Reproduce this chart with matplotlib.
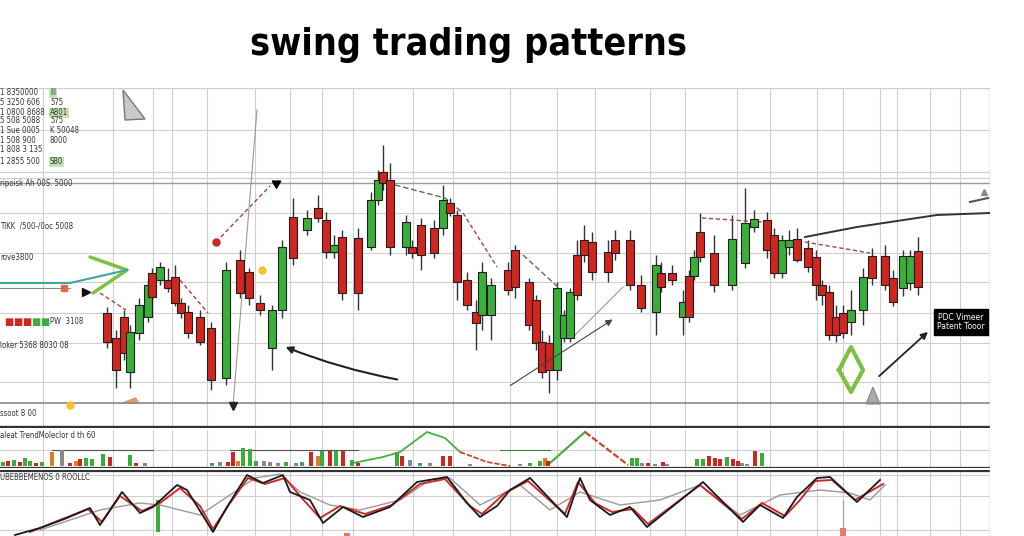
import matplotlib.pyplot as plt
from matplotlib.patches import Polygon

plt.rcParams['font.family'] = ['DejaVu Sans']

# candles: bar time, open, high, low, close
candle_t = [107, 116, 124, 130, 139, 148, 152, 160, 168, 175, 181, 188, 200, 211, 226,
            240, 249, 260, 272, 282, 293, 307, 318, 326, 334, 342, 358, 371, 378, 383,
            390, 406, 412, 421, 434, 443, 450, 457, 467, 476, 482, 491, 508, 515, 529,
            536, 542, 549, 557, 564, 570, 577, 584, 592, 608, 615, 630, 641, 656, 661,
            672, 683, 689, 694, 700, 714, 732, 745, 754, 767, 774, 782, 789, 797, 808,
            816, 822, 829, 836, 843, 851, 863, 872, 885, 893, 903, 910, 918]
candle_open = [115, 90, 111, 56, 95, 111, 155, 148, 148, 151, 125, 116, 111, 100, 50,
               168, 156, 125, 80, 118, 211, 198, 220, 208, 176, 191, 190, 181, 228, 256,
               248, 181, 181, 203, 200, 200, 225, 213, 148, 116, 113, 113, 158, 178, 146,
               128, 86, 85, 58, 90, 90, 173, 188, 186, 176, 188, 188, 143, 116, 155,
               155, 111, 152, 152, 196, 175, 143, 165, 201, 208, 193, 155, 181, 189, 180,
               171, 143, 136, 111, 115, 106, 118, 172, 172, 150, 140, 145, 177]
candle_high = [121, 98, 118, 103, 130, 148, 160, 166, 160, 163, 130, 123, 118, 106, 166,
               178, 160, 133, 123, 188, 230, 218, 233, 216, 193, 198, 200, 236, 258, 283,
               265, 213, 188, 210, 208, 243, 230, 218, 156, 128, 166, 150, 166, 183, 150,
               133, 98, 93, 146, 118, 140, 188, 203, 196, 188, 198, 198, 153, 173, 166,
               163, 138, 158, 178, 215, 193, 213, 240, 218, 216, 200, 193, 198, 200, 188,
               178, 148, 143, 123, 123, 138, 160, 180, 183, 158, 178, 178, 191]
candle_low = [80, 40, 68, 40, 88, 106, 128, 143, 136, 122, 110, 90, 83, 38, 43,
              130, 123, 113, 58, 110, 163, 193, 206, 170, 170, 128, 118, 178, 223, 238,
              173, 173, 170, 158, 170, 193, 212, 128, 118, 78, 98, 88, 133, 130, 98,
              78, 50, 35, 48, 86, 86, 128, 166, 148, 146, 168, 138, 116, 93, 136,
              143, 93, 106, 148, 166, 136, 138, 160, 196, 170, 150, 150, 173, 166, 156,
              128, 123, 88, 86, 90, 93, 103, 143, 138, 122, 132, 138, 133]
candle_close = [86, 58, 75, 96, 123, 143, 131, 161, 140, 125, 115, 95, 86, 48, 158,
                135, 130, 118, 118, 181, 170, 210, 210, 176, 183, 135, 135, 228, 248, 245,
                181, 206, 175, 173, 175, 228, 215, 146, 123, 105, 156, 143, 138, 141, 103,
                85, 56, 58, 140, 113, 136, 133, 173, 156, 156, 175, 143, 120, 163, 141,
                148, 126, 111, 171, 171, 143, 189, 205, 209, 178, 155, 188, 188, 168, 161,
                143, 133, 93, 93, 95, 118, 151, 150, 143, 126, 172, 172, 141]

# indicator bars
vol_t = [3, 8, 14, 20, 25, 30, 36, 42, 52, 62, 70, 76, 80, 86, 92, 103, 110, 130, 136, 145,
         212, 220, 228, 233, 238, 243, 250, 256, 264, 270, 278, 286, 296, 302, 311, 318,
         322, 330, 336, 343, 352, 358, 397, 402, 410, 420, 430, 443, 450, 470, 520, 530,
         540, 545, 548, 632, 637, 642, 648, 655, 663, 667, 697, 703, 709, 715, 720, 727,
         733, 738, 742, 747, 755, 762]
vol_h = [4, 5, 6, 4, 8, 5, 3, 4, 14, 16, 3, 5, 7, 8, 7, 12, 9, 11, 3, 3,
         3, 4, 4, 14, 5, 18, 17, 5, 5, 4, 3, 4, 3, 4, 14, 10,
         15, 15, 15, 15, 6, 3, 14, 10, 6, 3, 3, 10, 10, 2, 2, 3,
         5, 8, 5, 8, 8, 3, 3, 2, 4, 2, 7, 7, 10, 8, 7, 9,
         7, 5, 3, 2, 15, 13]
vol_kind = ['g', 'r', 'g', 'r', 'g', 'g', 'r', 'g', 'o', 'k', 'r', 'o', 'r', 'g', 'g', 'g', 'r', 'g', 'r', 'k',
            'g', 'k', 'r', 'r', 'o', 'g', 'g', 'g', 'k', 'k', 'k', 'g', 'k', 'g', 'r', 'o',
            'g', 'r', 'g', 'r', 'g', 'r', 'g', 'r', 'k', 'g', 'k', 'r', 'r', 'k', 'k', 'g',
            'g', 'o', 'r', 'g', 'g', 'k', 'r', 'k', 'r', 'k', 'g', 'g', 'r', 'r', 'r', 'g',
            'r', 'r', 'k', 'k', 'r', 'g']

trend_up1_t = [353, 383, 400, 427, 445, 460]
trend_up1_v = [3, 9, 14, 34, 28, 14]
trend_dn1_t = [460, 487, 510]
trend_dn1_v = [14, 4, 0]
trend_up2_t = [550, 585]
trend_up2_v = [3, 34]
trend_dn2_t = [585, 628]
trend_dn2_v = [34, 1]

# oscillator
osc_t = [15, 40, 67, 90, 100, 122, 140, 153, 177, 187, 213, 227, 247, 263, 283, 290, 310,
         323, 343, 363, 390, 417, 447, 467, 480, 497, 510, 530, 567, 580, 590, 610, 630,
         647, 703, 743, 760, 783, 797, 817, 830, 857, 880]
osc_v = [1, 8, 18, 28, 11, 44, 23, 29, 51, 46, 4, 29, 61, 53, 61, 44, 36,
         13, 29, 19, 29, 54, 59, 33, 19, 30, 46, 58, 19, 58, 36, 21, 29,
         9, 54, 14, 31, 18, 39, 58, 59, 34, 56]
sig_t = [30, 60, 88, 102, 120, 142, 160, 180, 200, 213, 230, 248, 265, 285, 300, 320, 340,
         365, 392, 420, 445, 470, 482, 505, 528, 565, 578, 595, 612, 633, 648, 700, 742,
         762, 785, 800, 815, 832, 855, 883]
sig_v = [4, 16, 27, 14, 40, 25, 33, 48, 30, 7, 33, 58, 52, 58, 40, 18, 30,
         22, 31, 52, 57, 30, 22, 43, 55, 22, 54, 33, 24, 27, 12, 51, 17,
         33, 20, 36, 55, 56, 36, 52]
avg_t = [40, 100, 140, 160, 200, 230, 255, 280, 300, 330, 360, 400, 430, 450, 480, 520,
         550, 580, 620, 660, 700, 740, 780, 820, 850, 870, 885]
avg_v = [6, 26, 33, 31, 21, 41, 58, 62, 44, 31, 26, 36, 56, 58, 31, 51,
         26, 44, 31, 36, 51, 21, 41, 46, 43, 36, 51]

grid_x = [43, 113, 153, 172, 207, 255, 290, 322, 353, 413, 453, 510, 557, 595, 650,
          685, 737, 770, 817, 843, 880, 897, 930, 960, 990]
grid_y = [46, 85, 115, 146, 175, 215, 250, 256, 298]

left_notes = [
    (93, '1 8350000'), (103, '5 3250 606'), (113, '1 0800 8688'), (121, '5 508 5088'),
    (131, '1 Sue 0005'), (141, '1 508 900'), (150, '1 808 3 135'), (162, '1 2855 500'),
    (184, 'ripoisk Ah 00S. 5000'), (226, 'TIKK  /500-/0oc 5008'), (258, 'rove3800'),
    (345, 'loker 5368 8030 08'), (413, 'ssoot 8 00'),
]
side_notes = [(93, 'III'), (103, '575'), (113, 'A801'), (121, '575'), (131, 'K 50048'),
              (141, '8000'), (162, 'S80')]

RED = '#d0261f'
GREEN = '#3aae3a'
EDGE = '#1f1f1f'
GRID = '#d0d0d0'
kind_color = {'g': GREEN, 'r': RED, 'o': '#d9822b', 'k': '#8a8a8a'}
NOTE = dict(fontsize=5.6, color='#333333', va='center', fontstretch='condensed')

W, H = 1024, 536
fig = plt.figure(figsize=(W / 100, H / 100), dpi=100)
fig.patch.set_facecolor('white')

fig.text(468 / W, 1 - 45 / H, 'swing trading patterns', ha='center', va='center',
         fontsize=27, fontweight='bold', fontstretch='condensed', family='DejaVu Sans')

ax = fig.add_axes([0, (H - 428) / H, 990 / W, 340 / H])
ax_ind = fig.add_axes([0, (H - 468) / H, 990 / W, 38 / H])
ax_osc = fig.add_axes([0, 0, 990 / W, 66 / H])

for a in (ax, ax_ind, ax_osc):
    a.set_xlim(0, 990)
    a.set_xticks(grid_x)
    a.tick_params(length=0, labelbottom=False, labelleft=False)
    a.grid(True, color=GRID, lw=0.8)
    for s in a.spines.values():
        s.set_visible(False)
    a.set_axisbelow(True)

# ---- main price panel
ax.set_ylim(0, 340)
ax.set_yticks(grid_y)
ax.axhline(340, color='#cfcfcf', lw=1)
ax.axhline(25, color='#8a8a8a', lw=1.2)
ax.axhline(245, color='#9a9a9a', lw=1)
ax.axhline(1.2, color='#333333', lw=2.4)
ax.axvline(990, color='#bbbbbb', lw=1)

for t, o, hi, lo, c in zip(candle_t, candle_open, candle_high, candle_low, candle_close):
    col = GREEN if c >= o else RED
    ax.vlines(t, lo, hi, color='#333333', lw=1, zorder=2)
    ax.bar(t, abs(c - o), bottom=min(o, c), width=8, color=col, edgecolor=EDGE,
           lw=0.8, zorder=3)

# pattern annotations
dash = dict(color='#b04040', lw=1, ls=(0, (3, 2)))
ax.plot([216, 270], [186, 242], **dash)
ax.plot(216, 186, 'o', color=RED, ms=5, zorder=4)
ax.plot(276, 245, marker=(3, 0, -60), color='k', ms=7)
ax.plot([180, 208], [148, 115], **dash)
ax.plot([100, 126], [135, 118], **dash)
ax.plot([395, 445, 463], [243, 230, 215], color='#666666', lw=1, ls=(0, (4, 2)))
ax.plot([463, 497], [215, 161], **dash)
ax.plot([523, 558], [173, 141], color='#666666', lw=1, ls=(0, (4, 2)))
ax.plot([702, 763], [210, 206], **dash)
ax.plot([805, 870], [186, 175], **dash)
ax.plot([805, 857, 937, 990], [191, 201, 213, 215], color='#333333', lw=1.4)
ax.plot([970, 988], [226, 230], color='#555555', lw=1.5)
ax.plot(984, 236, marker='^', color='#888888', ms=5)

ax.annotate('', xy=(283, 82), xytext=(400, 48),
            arrowprops=dict(arrowstyle='-|>', color='#222222', lw=1.5,
                            connectionstyle='arc3,rad=-0.05'))
ax.annotate('', xy=(615, 110), xytext=(508, 41),
            arrowprops=dict(arrowstyle='-|>', color='#444444', lw=0.8))
ax.plot([573, 623], [91, 141], color='#999999', lw=0.8)
ax.annotate('', xy=(930, 98), xytext=(877, 50),
            arrowprops=dict(arrowstyle='-|>', color='#222222', lw=1.3))
ax.plot([257, 233], [318, 22], color='#999999', lw=0.8)
ax.plot(233, 22, marker='v', color='#222222', ms=6)
ax.plot(86, 136, marker='>', color='#111111', ms=6)

ax.plot([90, 127, 93], [171, 158, 135], color='#7cc142', lw=2.5, solid_capstyle='round')
ax.plot([0, 70, 127], [145, 145, 158], color='#3aa89a', lw=1.5)
ax.plot([0, 70], [140, 140], color='#888888', lw=0.8)
ax.plot(64, 140, 's', color='#e36b4f', ms=5)
ax.plot([839, 851, 863, 851, 839], [58, 81, 58, 36, 58], color='#7cc142', lw=3)
ax.add_patch(Polygon([(123, 338), (125, 308), (145, 309)], closed=True,
                     facecolor='#c9c9c9', edgecolor='#777777', lw=1))
ax.add_patch(Polygon([(866, 24), (880, 24), (873, 41)], closed=True,
                     facecolor='#a9a9a9', edgecolor='#888888', lw=0.8))
ax.add_patch(Polygon([(118, 24), (140, 24), (136, 31)], closed=True,
                     facecolor='#e8996b', edgecolor='none'))
ax.plot(70, 23, 'o', color='#f2c230', ms=5)
ax.plot(262, 158, 'o', color='#f2c230', ms=5, zorder=4)

ax.text(961, 106, 'PDC Vimeer\nPatent Tooor', color='white', fontsize=5.5,
        ha='center', va='center', linespacing=1.1,
        bbox=dict(facecolor='black', edgecolor='black', pad=2.5))

for y, txt in left_notes:
    ax.text(0, 428 - y, txt, ha='left', **NOTE)
for y, txt in side_notes:
    box = None
    if txt in ('III', 'A801', 'S80'):
        box = dict(facecolor='#bfe3b5', edgecolor='none', pad=0.6)
    ax.text(50, 428 - y, txt, ha='left', bbox=box, **NOTE)
sq_colors = [RED, RED, RED, GREEN, GREEN]
for i, col in enumerate(sq_colors):
    ax.text(4 + i * 9, 428 - 322, '\u25a0', color=col, fontsize=7, va='center', ha='left')
ax.text(50, 428 - 322, 'PW  3108', ha='left', **NOTE)

# ---- indicator panel
ax_ind.set_ylim(-2, 36)
ax_ind.set_yticks([16])
ax_ind.axhline(-1.5, color='#333333', lw=1.6)
ax_ind.axvline(990, color='#bbbbbb', lw=1)
ax_ind.bar(vol_t, vol_h, width=4, color=[kind_color[k] for k in vol_kind], zorder=3)
ax_ind.plot([52, 153], [16, 16], color='#555555', lw=0.8)
ax_ind.plot([230, 358], [16, 16], color='#555555', lw=0.8)
ax_ind.plot([500, 550], [16, 16], color='#3a8a3a', lw=0.8)
ax_ind.plot(trend_up1_t, trend_up1_v, color='#45b045', lw=1.3)
ax_ind.plot(trend_dn1_t, trend_dn1_v, color='#d0452f', lw=1.3, ls=(0, (3, 1)))
ax_ind.plot(trend_up2_t, trend_up2_v, color='#45b045', lw=1.6)
ax_ind.plot(trend_dn2_t, trend_dn2_v, color='#d0452f', lw=1.6, ls=(0, (3, 1)))
ax_ind.text(0, 30, 'aleat TrendMoleclor d th 60', ha='left', **NOTE)

# ---- oscillator panel
ax_osc.set_ylim(0, 66)
ax_osc.set_yticks([6, 40, 61])
ax_osc.axhline(65, color='#333333', lw=1.6)
ax_osc.axvline(990, color='#bbbbbb', lw=1)
ax_osc.plot(avg_t, avg_v, color='#9a9a9a', lw=1)
ax_osc.plot(sig_t, sig_v, color='#cc2b2b', lw=1.4)
ax_osc.plot(osc_t, osc_v, color='#1a1a1a', lw=1.3)
ax_osc.bar(158, 32, bottom=4, width=4, color=GREEN)
ax_osc.vlines(843, 8, 36, color='#999999', lw=0.8)
ax_osc.bar(843, 8, width=6, color='#e37a6f')
ax_osc.bar(347, 3, width=6, color='#e37a6f')
ax_osc.text(0, 59, 'UBEBBEMENOS 0 ROOLLC', ha='left', **NOTE)

fig.savefig('out.png', dpi=100)
